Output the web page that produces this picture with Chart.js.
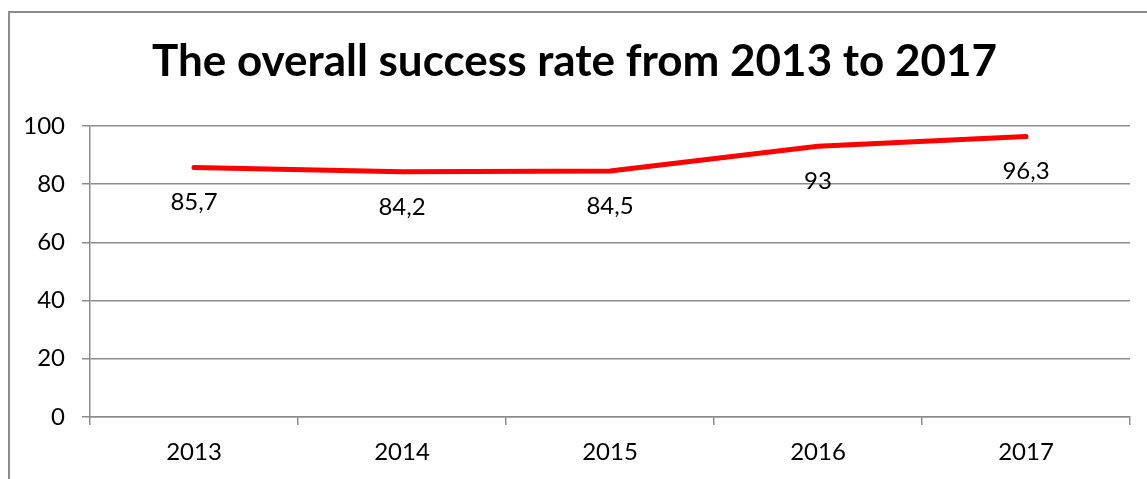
<!DOCTYPE html>
<html>
<head>
<meta charset="utf-8">
<script src="https://cdn.jsdelivr.net/npm/chart.js"></script>
<style>
  html, body { margin: 0; padding: 0; background: #fff; }
  #wrap { position: relative; width: 1147px; height: 479px; }
  #frame {
    position: absolute; left: 8px; top: 11px; width: 1200px; height: 500px;
    border-left: 2px solid #8c8c8c; border-top: 2px solid #8c8c8c; pointer-events: none;
  }
</style>
</head>
<body>
<div id="wrap">
  <canvas id="chart" width="1147" height="479"></canvas>
  <div id="frame"></div>
</div>
<script>
const years = ["2013", "2014", "2015", "2016", "2017"];
const successRate = [85.7, 84.2, 84.5, 93, 96.3];
const rateLabels = ["85,7", "84,2", "84,5", "93", "96,3"];

const FONT = "Lato, 'Open Sans', sans-serif";

// draw value labels under each point
const valueLabels = {
  id: "valueLabels",
  afterDatasetsDraw(chart) {
    const ctx = chart.ctx;
    const meta = chart.getDatasetMeta(0);
    ctx.save();
    ctx.font = "24px " + FONT;
    ctx.fillStyle = "#000";
    ctx.textAlign = "center";
    ctx.textBaseline = "middle";
    meta.data.forEach((pt, i) => {
      ctx.fillText(rateLabels[i], pt.x, pt.y + 35);
    });
    ctx.restore();
  },
};

const ctx = document.getElementById("chart").getContext("2d");
new Chart(ctx, {
  type: "line",
  data: {
    labels: years,
    datasets: [
      {
        data: successRate,
        borderColor: "#ff0000",
        borderWidth: 5,
        borderCapStyle: "round",
        borderJoinStyle: "round",
        pointRadius: 0,
        tension: 0,
      },
    ],
  },
  options: {
    responsive: false,
    animation: false,
    layout: { padding: { left: 19, right: 17, top: 0, bottom: 0 } },
    plugins: {
      legend: { display: false },
      tooltip: { enabled: false },
      title: {
        display: true,
        text: "The overall success rate from 2013 to 2017",
        color: "#000",
        font: { family: FONT, size: 44, weight: "bold", lineHeight: 1.2 },
        padding: { top: 35, bottom: 38 },
      },
    },
    scales: {
      x: {
        offset: true,
        grid: {
          offset: true,
          drawOnChartArea: false,
          tickLength: 8,
          color: "#8c8c8c",
          lineWidth: 1.5,
        },
        border: { color: "#8c8c8c", width: 1.5 },
        ticks: {
          color: "#000",
          font: { family: FONT, size: 24 },
          padding: 13,
          maxRotation: 0,
        },
        afterFit(scale) { scale.height = 62; },
      },
      y: {
        min: 0,
        max: 100,
        ticks: {
          stepSize: 20,
          color: "#000",
          font: { family: FONT, size: 24 },
          padding: 17,
        },
        grid: { tickLength: 8, color: "#8c8c8c", lineWidth: 1.5 },
        border: { color: "#8c8c8c", width: 1.5 },
        afterFit(scale) { scale.width = 71; },
      },
    },
  },
  plugins: [valueLabels],
});
</script>
</body>
</html>
